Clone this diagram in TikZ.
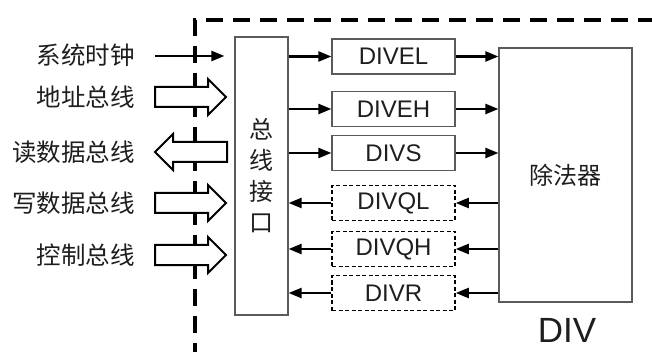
\documentclass[tikz,border=0pt]{standalone}
\usepackage{fontspec}
\setmainfont{Liberation Sans}
\newfontfamily\cjk{Noto Sans CJK SC}
\usetikzlibrary{arrows.meta}
\definecolor{boxgray}{RGB}{90,90,90}
\definecolor{txt}{RGB}{30,30,30}
\begin{document}
\begin{tikzpicture}[x=1pt,y=-1pt,
  boundary/.style={line width=3.3pt, dash pattern=on 17pt off 10pt, black},
  blockarrow/.style={draw=black, line width=2pt, fill=white, line join=miter},
  sig/.style={line width=2.2pt, -{Triangle[length=13pt,width=10pt]}},
  solidbox/.style={draw=boxgray, line width=1.2pt, minimum width=123pt, minimum height=35pt, inner sep=0pt, text=txt, font=\fontsize{24pt}{28pt}\selectfont},
  dashbox/.style={draw=black, line width=1.5pt, dash pattern=on 4pt off 2.5pt, minimum width=123pt, minimum height=35pt, inner sep=0pt, text=txt, font=\fontsize{24pt}{28pt}\selectfont},
  lbl/.style={anchor=east, inner sep=0pt, text=txt, font=\cjk\fontsize{24.5pt}{28pt}\selectfont},
  busr/.pic={\path[blockarrow] (0,-10) -- (53,-10) -- (53,-18) -- (71,0) -- (53,18) -- (53,10) -- (0,10) -- cycle;},
  busl/.pic={\path[blockarrow] (0,0) -- (18,-18) -- (18,-10) -- (72,-10) -- (72,10) -- (18,10) -- (18,18) -- cycle;}
]
\useasboundingbox (0,0) rectangle (652,352);
\fill[white] (0,0) rectangle (652,352);

% dashed module boundary
\coordinate (bTR) at (655,20);
\coordinate (bTL) at (195,20);
\coordinate (bBL) at (195,355);
\draw[boundary] (bTR) -- (bTL) -- (bBL);

% block bus arrows
\pic at (155,97) {busr};
\pic at (155,152) {busl};
\pic at (155,203) {busr};
\pic at (155,255) {busr};

% bus interface
\node[draw=boxgray, line width=1.2pt, minimum width=53pt, minimum height=278pt, inner sep=0pt, text=txt,
      font=\cjk\fontsize{24pt}{31pt}\selectfont, align=center] (bus) at (261.5,176) {总\\线\\接\\口};

% registers
\node[solidbox] (el) at (393.5,56.5) {DIVEL};
\node[solidbox] (eh) at (393.5,109) {DIVEH};
\node[solidbox] (es) at (393.5,153) {DIVS};
\node[dashbox] (ql) at (393.5,203) {DIVQL};
\node[dashbox] (qh) at (393.5,249) {DIVQH};
\node[dashbox] (qr) at (393.5,293) {DIVR};

% divider
\node[draw=boxgray, line width=1.2pt, minimum width=133pt, minimum height=254pt, inner sep=0pt, text=txt,
      font=\cjk\fontsize{24pt}{28pt}\selectfont] (div) at (565.5,175) {除法器};

\node[inner sep=0pt, text=txt, font=\fontsize{35pt}{40pt}\selectfont] (divlbl) at (567,330) {DIV};

% labels
\node[lbl] (tclk) at (135,55) {系统时钟};
\node[lbl] (taddr) at (135,97) {地址总线};
\node[lbl] (trd) at (135,152) {读数据总线};
\node[lbl] (twr) at (135,203) {写数据总线};
\node[lbl] (tctl) at (135,255) {控制总线};

% clock
\coordinate (clk) at (155,56);
\draw[sig] (clk) -- ([xshift=-10pt]bus.west |- clk);

% bus -> registers
\draw[sig] (bus.east |- el.west) -- (el.west);
\draw[sig] (bus.east |- eh.west) -- (eh.west);
\draw[sig] (bus.east |- es.west) -- (es.west);
% registers -> bus
\draw[sig] (ql.west) -- (bus.east |- ql.west);
\draw[sig] (qh.west) -- (bus.east |- qh.west);
\draw[sig] (qr.west) -- (bus.east |- qr.west);

% registers -> divider
\draw[sig] (el.east) -- (div.west |- el.east);
\draw[sig] (eh.east) -- (div.west |- eh.east);
\draw[sig] (es.east) -- (div.west |- es.east);
% divider -> registers
\draw[sig] (div.west |- ql.east) -- (ql.east);
\draw[sig] (div.west |- qh.east) -- (qh.east);
\draw[sig] (div.west |- qr.east) -- (qr.east);
\end{tikzpicture}
\end{document}
